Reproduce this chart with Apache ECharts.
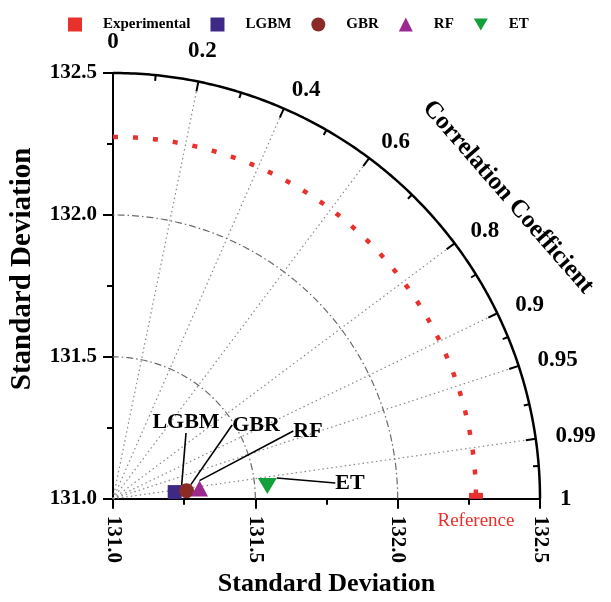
<!DOCTYPE html>
<html><head><meta charset="utf-8">
<script src="https://cdn.jsdelivr.net/npm/echarts@6/dist/echarts.min.js"></script>
<style>html,body{margin:0;padding:0;background:#fff}#c{width:611px;height:602px}</style>
</head><body><div id="c"></div>
<script>
// ---- data ----
const modelNames = ['LGBM', 'GBR', 'RF', 'ET'];
const modelStd = [131.218, 131.260, 131.306, 131.544];
const modelCorr = [0.994, 0.994, 0.993, 0.9965];
const refName = 'Experimental';
const refStd = 132.275;
const refCorr = 1;
const stdTicks = [131.0, 131.5, 132.0, 132.5];
const corrMajor = [0, 0.2, 0.4, 0.6, 0.8, 0.9, 0.95, 0.99, 1];
const corrLabels = ['0', '0.2', '0.4', '0.6', '0.8', '0.9', '0.95', '0.99', '1'];
const corrMinor = [0.1, 0.3, 0.5, 0.7, 0.85, 0.925, 0.975, 0.997];
const stdArcs = [131.5, 132.0];

// ---- helpers ----
const stdMin = stdTicks[0], stdMax = stdTicks[stdTicks.length - 1];
const FONT = 'Liberation Serif';
function toXY(std, corr) {
  const r = std - stdMin, th = Math.acos(Math.max(-1, Math.min(1, corr)));
  return [stdMin + r * Math.cos(th), stdMin + r * Math.sin(th)];
}
function arc(std, fromDeg, toDeg) {
  const pts = [], n = 180;
  for (let i = 0; i <= n; i++) {
    const d = (fromDeg + (toDeg - fromDeg) * i / n) * Math.PI / 180;
    pts.push(toXY(std, Math.cos(d)));
  }
  return pts;
}
const colors = { Experimental: '#e8302c', LGBM: '#3e2a86', GBR: '#8a2b27', RF: '#9b2a90', ET: '#13a03a' };
const symbols = { LGBM: 'rect', GBR: 'circle', RF: 'triangle', ET: 'path://M0,0L20,0L10,17Z' };
const symSizes = { LGBM: 14, GBR: 15, RF: [17, 16], ET: [19, 16] };
const labelPos = { LGBM: [186, 422], GBR: [256, 425], RF: [308, 431], ET: [350, 483] };

const series = [];
// radial dotted correlation lines
series.push({
  type: 'lines', coordinateSystem: 'cartesian2d', silent: true, z: 1,
  lineStyle: { color: '#8a8a8a', width: 1.2, type: [1.5, 3], opacity: 1 },
  data: corrMajor.filter(c => c > 0 && c < 1).map(c => ({ coords: [[stdMin, stdMin], toXY(stdMax, c)] }))
});
// std dash-dot arcs
stdArcs.forEach(s => series.push({
  type: 'line', data: arc(s, 0, 90), showSymbol: false, silent: true, clip: false, z: 1,
  lineStyle: { color: '#6a6a6a', width: 1.2, type: [7, 3, 1.5, 3] }
}));
// reference std red dotted arc
series.push({
  type: 'line', data: arc(refStd, 90, 0), showSymbol: false, silent: true, clip: false, z: 2,
  lineStyle: { color: colors.Experimental, width: 4.5, type: [5, 15], cap: 'butt' }
});
// outer arc
series.push({
  type: 'line', data: arc(stdMax, 0, 90), showSymbol: false, silent: true, clip: false, z: 3,
  lineStyle: { color: '#000', width: 2.5 }
});
// major & minor ticks on arc
series.push({
  type: 'lines', coordinateSystem: 'cartesian2d', silent: true, z: 3,
  lineStyle: { color: '#000', width: 2, opacity: 1 },
  data: corrMajor.filter(c => c > 0 && c < 1).map(c => ({ coords: [toXY(stdMax, c), toXY(stdMax - 0.035, c)] }))
    .concat(corrMinor.map(c => ({ coords: [toXY(stdMax, c), toXY(stdMax - 0.02, c)] })))
});
// correlation labels
series.push({
  type: 'scatter', symbolSize: 0, silent: true, clip: false, z: 3,
  itemStyle: { opacity: 1 },
  data: corrMajor.map((c, i) => {
    const top = Math.acos(c) > 75 * Math.PI / 180;
    return {
      value: toXY(stdMin + 1.57, c),
      label: { align: top ? 'center' : 'left', verticalAlign: top ? 'bottom' : 'middle' }
    };
  }),
  label: {
    show: true, position: [0, 0], formatter: p => corrLabels[p.dataIndex],
    fontFamily: FONT, fontWeight: 'bold', fontSize: 23, color: '#000', opacity: 1
  }
});
// reference point
series.push({
  name: refName, type: 'scatter', clip: false, z: 6,
  symbol: 'rect', symbolSize: [14, 6], symbolOffset: [0, -3],
  itemStyle: { color: colors.Experimental, opacity: 1 },
  data: [toXY(refStd, refCorr)],
  label: {
    show: true, position: 'bottom', distance: 13, formatter: 'Reference',
    fontFamily: FONT, fontSize: 19, color: colors.Experimental, opacity: 1
  }
});
// model points
modelNames.forEach((n, i) => series.push({
  name: n, type: 'scatter', clip: false, z: 5 + i,
  symbol: symbols[n], symbolSize: symSizes[n],
  itemStyle: { color: colors[n], opacity: 1 },
  data: [toXY(modelStd[i], modelCorr[i])],
  label: {
    show: true, formatter: '{a}', fontFamily: FONT, fontWeight: 'bold', fontSize: 22, color: '#000', opacity: 1
  },
  labelLayout: { x: labelPos[n][0], y: labelPos[n][1], align: 'center', verticalAlign: 'middle' },
  labelLine: { show: true, lineStyle: { color: '#000', width: 1.6, opacity: 1 } }
}));

const axisCommon = {
  type: 'value', min: stdMin, max: stdMax, interval: 0.5,
  axisLine: { show: true, onZero: false, lineStyle: { color: '#000', width: 2 } },
  axisTick: { show: true, length: 10, lineStyle: { color: '#000', width: 2 } },
  minorTick: { show: true, splitNumber: 2, length: 6, lineStyle: { color: '#000', width: 2 } },
  splitLine: { show: false }
};

const option = {
  backgroundColor: '#fff',
  animation: false,
  grid: { left: 111, top: 73, width: 429, height: 429 },
  legend: {
    top: 12, left: 63, itemWidth: 14, itemHeight: 14, itemGap: 20,
    textStyle: { fontFamily: FONT, fontWeight: 'bold', fontSize: 15, color: '#000', padding: [0, 0, 0, 16] },
    data: [{ name: 'Experimental', icon: 'rect' }, 'LGBM', 'GBR', 'RF', 'ET']
  },
  xAxis: Object.assign({}, axisCommon, {
    name: 'Standard Deviation', nameLocation: 'middle', nameGap: 72,
    nameTextStyle: { fontFamily: FONT, fontWeight: 'bold', color: '#000', fontSize: 26 },
    axisLabel: { rotate: -90, margin: 17, formatter: v => v.toFixed(1), fontFamily: FONT, fontWeight: 'bold', fontSize: 21, color: '#000' }
  }),
  yAxis: Object.assign({}, axisCommon, {
    name: 'Standard Deviation', nameLocation: 'middle', nameGap: 76,
    nameTextStyle: { fontFamily: FONT, fontWeight: 'bold', color: '#000', fontSize: 29, padding: [0, 0, 0, 34] },
    axisLabel: { margin: 16, formatter: v => v.toFixed(1), fontFamily: FONT, fontWeight: 'bold', fontSize: 21, color: '#000' }
  }),
  graphic: [{
    type: 'text', x: 508, y: 197, rotation: -49 * Math.PI / 180,
    style: { text: 'Correlation Coefficient', x: 0, y: 0, align: 'center', verticalAlign: 'middle',
      font: 'bold 25px "Liberation Serif"', fill: '#000' }
  }],
  series: series
};
const chart = echarts.init(document.getElementById('c'), null, { renderer: 'canvas' });
chart.setOption(option);
</script></body></html>
